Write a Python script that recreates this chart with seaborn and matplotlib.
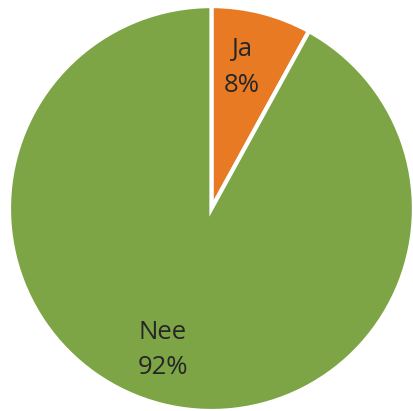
import numpy as np
import seaborn as sns
import matplotlib.pyplot as plt

# Data
labels = ["Ja", "Nee"]
percentages = [8, 92]
colors = ["#E87A24", "#7DA546"]

sns.set_theme(style="white")
plt.rcParams["font.family"] = ["Open Sans", "DejaVu Sans"]

fig = plt.figure(figsize=(4.14, 4.11), dpi=100)
ax = fig.add_axes([0, 0, 1, 1])

wedges, texts = ax.pie(
    percentages,
    colors=colors,
    startangle=90,
    counterclock=False,
    radius=1,
    wedgeprops={"edgecolor": "white", "linewidth": 3},
)

# Labels inside each slice (nudged a bit to the left like the original)
x_nudge = [-0.03, -0.06]
for w, lab, pct, dx in zip(wedges, labels, percentages, x_nudge):
    ang = np.deg2rad((w.theta1 + w.theta2) / 2)
    r = 0.72
    ax.text(r * np.cos(ang) + dx, r * np.sin(ang), f"{lab}\n{pct}%",
            ha="center", va="center", fontsize=18.5, color="#262626",
            linespacing=1.55)

ax.set_xlim(-1.044, 1.0)
ax.set_ylim(-1.0, 1.03)
ax.set_aspect("equal")
ax.axis("off")

fig.savefig("out.png", dpi=100, facecolor="white")
